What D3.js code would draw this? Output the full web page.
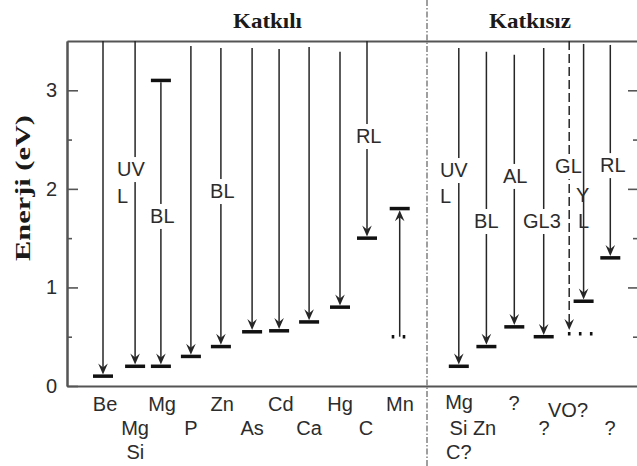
<!DOCTYPE html>
<html>
<head>
<meta charset="utf-8">
<script src="https://cdn.jsdelivr.net/npm/d3@7"></script>
<style>
  html, body { margin: 0; padding: 0; background: #fff; }
  svg { display: block; }
</style>
</head>
<body>
<svg id="chart" width="637" height="466"></svg>
<script>
// ---- Transitions: doped (Katkılı) first, then undoped (Katkısız) ----
// column position along the horizontal axis (column units)
const transitionCol  = [1.2, 2.27, 3.13, 4.13, 5.13, 6.17, 7.07, 8.07, 9.1, 10.0, 11.09,
                        13.06, 13.98, 14.91, 15.89, 16.74, 17.22, 18.11];
// energy of the level where the arrow ends (eV)
const levelEnergy    = [0.10, 0.20, 0.20, 0.30, 0.40, 0.55, 0.56, 0.65, 0.80, 1.50, 1.80,
                        0.20, 0.40, 0.60, 0.50, 0.55, 0.86, 1.30];
// energy where the arrow starts (eV)
const startEnergy    = [3.50, 3.50, 3.10, 3.45, 3.43, 3.43, 3.42, 3.44, 3.39, 3.50, 0.50,
                        3.43, 3.39, 3.36, 3.43, 3.50, 3.47, 3.46];
// emission (down), absorption (up) or tentative (dashed)
const transitionType = ["emission", "emission", "emission", "emission", "emission", "emission",
                        "emission", "emission", "emission", "emission", "absorption",
                        "emission", "emission", "emission", "emission", "tentative",
                        "emission", "emission"];
// marker drawn at the start level
const startMarker    = ["none", "none", "bar", "none", "none", "none", "none", "none", "none",
                        "none", "dots", "none", "none", "none", "none", "none", "none", "none"];

// ---- Band names written along the arrows ----
const bandNames = ["UV", "L", "BL", "BL", "RL", "UV", "L", "BL", "AL", "GL3", "GL", "Y", "L", "RL"];
const bandCol   = [1.67, 1.67, 2.77, 4.77, 9.63, 12.43, 12.43, 13.57, 14.53, 15.2, 16.27, 16.97, 17.03, 17.77];
const bandBaseE = [2.13, 1.857, 1.654, 1.907, 2.465, 2.12, 1.857, 1.603, 2.06, 1.603, 2.16, 1.867, 1.603, 2.17];
const bandKnock = [true, false, true, true, true, true, false, true, true, true, true, false, false, true];

// ---- Impurity / site names under the axis ----
const siteNames = ["Be", "Mg", "Zn", "Cd", "Hg", "Mn", "Mg", "?", "VO?",
                   "Mg", "P", "As", "Ca", "C", "Si Zn", "?", "?",
                   "Si", "C?"];
const siteCol   = [1.27, 3.17, 5.17, 7.13, 9.1, 11.1, 13.07, 14.9, 16.7,
                   2.27, 4.13, 6.17, 8.07, 9.97, 13.53, 15.9, 18.1,
                   2.28, 13.06];
const siteRow   = [1, 1, 1, 1, 1, 1, 0.92, 0.96, 1.25,
                   2, 2, 2, 2, 2, 2, 2, 2,
                   3, 3];

// ---- Axis ----
const yMajorTicks = [0, 1, 2, 3];
const yMinorTicks = [0.5, 1.5, 2.5];
const dividerCol = 12.0;
const sectionTitles = ["Katkılı", "Katkısız"];
const yTitle = "Enerji (eV)";

// ---------------------------------------------------------------
const svg = d3.select("#chart");
const plotLeft = 67, plotRight = 637, plotTop = 41, plotBottom = 386;

const x = d3.scaleLinear().domain([0, 19]).range([plotLeft, plotRight]);
const y = d3.scaleLinear().domain([0, 3.5]).range([plotBottom, plotTop]);

const axisColor = "#555";
const inkColor = "#262626";
const textColor = "#2c2c2c";
const sans = "'Liberation Sans', Arial, Helvetica, sans-serif";
const serif = "'Liberation Serif', 'Times New Roman', serif";

function styleAxis(g) {
  g.select(".domain").attr("stroke", axisColor).attr("stroke-width", 2);
  g.selectAll(".tick line").attr("stroke", axisColor).attr("stroke-width", 1.6);
}

// left axis with inward ticks
svg.append("g").attr("transform", `translate(${plotLeft},0)`)
  .call(d3.axisLeft(y).tickValues(yMinorTicks).tickSize(-5).tickSizeOuter(0).tickFormat(""))
  .call(styleAxis);
svg.append("g").attr("transform", `translate(${plotLeft},0)`)
  .call(d3.axisLeft(y).tickValues(yMajorTicks).tickSize(-11).tickSizeOuter(0).tickPadding(10).tickFormat(d3.format("d")))
  .call(styleAxis)
  .call(g => g.selectAll(".tick text")
    .attr("font-family", sans).attr("font-size", 20).attr("fill", textColor));

// right side ticks (axis line sits at the edge)
svg.append("g").attr("transform", `translate(${plotRight + 1},0)`)
  .call(d3.axisRight(y).tickValues(yMinorTicks).tickSize(-5).tickSizeOuter(0).tickFormat(""))
  .call(styleAxis);
svg.append("g").attr("transform", `translate(${plotRight + 1},0)`)
  .call(d3.axisRight(y).tickValues(yMajorTicks.filter(d => d > 0)).tickSize(-10).tickSizeOuter(0).tickFormat(""))
  .call(styleAxis);

// top and bottom frame lines
svg.append("g").attr("transform", `translate(0,${plotBottom})`)
  .call(d3.axisBottom(x).tickValues([]).tickSizeOuter(0))
  .call(styleAxis);
svg.append("g").attr("transform", `translate(0,${plotTop})`)
  .call(d3.axisTop(x).tickValues([]).tickSizeOuter(0))
  .call(styleAxis);

// dash-dot divider between doped and undoped
svg.append("line")
  .attr("x1", x(dividerCol)).attr("x2", x(dividerCol))
  .attr("y1", 0).attr("y2", 466)
  .attr("stroke", "#777").attr("stroke-width", 1.4)
  .attr("stroke-dasharray", "6,2,1.5,2");

// ---- transitions ----
const rows = transitionCol.map((c, i) => ({
  col: c, end: levelEnergy[i], start: startEnergy[i],
  type: transitionType[i], startMarker: startMarker[i]
}));

const barW = 20, barH = 3.5;
const arrowPath = "M0,0 L-4.8,-11 L0,-7 L4.8,-11 Z";
const lineLayer = svg.append("g");
const knockLayer = svg.append("g");
const markLayer = svg.append("g");
const textLayer = svg.append("g");

rows.forEach(d => {
  const cx = x(d.col);
  const up = d.type === "absorption";
  const yEnd = y(d.end) + (up ? barH / 2 : -barH / 2);
  const yStart = y(d.start) + (d.startMarker === "bar" ? barH / 2 : 0);

  lineLayer.append("line")
    .attr("x1", cx).attr("x2", cx)
    .attr("y1", yStart).attr("y2", yEnd + (up ? 6 : -6))
    .attr("stroke", inkColor).attr("stroke-width", 1.5)
    .attr("stroke-dasharray", d.type === "tentative" ? "9,4" : null);

  // arrow head touching the level
  markLayer.append("path")
    .attr("d", arrowPath)
    .attr("transform", `translate(${cx},${yEnd}) rotate(${up ? 180 : 0})`)
    .attr("fill", inkColor);

  // end level marker
  if (d.type === "tentative") {
    markLayer.append("line")
      .attr("x1", cx - 1.3).attr("x2", cx + 23.5)
      .attr("y1", y(d.end) + 2).attr("y2", y(d.end) + 2)
      .attr("stroke", "#111").attr("stroke-width", barH)
      .attr("stroke-dasharray", "2.6,8.4");
  } else {
    markLayer.append("rect")
      .attr("x", cx - barW / 2).attr("y", y(d.end) - barH / 2)
      .attr("width", barW).attr("height", barH)
      .attr("fill", "#111");
  }

  // start level marker
  if (d.startMarker === "bar") {
    markLayer.append("rect")
      .attr("x", cx - barW / 2).attr("y", y(d.start) - barH / 2)
      .attr("width", barW).attr("height", barH)
      .attr("fill", "#111");
  } else if (d.startMarker === "dots") {
    markLayer.append("line")
      .attr("x1", cx - 8).attr("x2", cx + 6)
      .attr("y1", y(d.start)).attr("y2", y(d.start))
      .attr("stroke", "#111").attr("stroke-width", barH)
      .attr("stroke-dasharray", "2.6,8.4");
  }
});

// ---- band labels (white box interrupts the arrow line) ----
bandNames.forEach((name, i) => {
  const t = textLayer.append("text")
    .attr("x", x(bandCol[i])).attr("y", y(bandBaseE[i]))
    .attr("font-family", sans).attr("font-size", 20).attr("fill", textColor)
    .text(name);
  if (bandKnock[i]) {
    const b = t.node().getBBox();
    knockLayer.append("rect")
      .attr("x", b.x).attr("y", b.y - 1)
      .attr("width", b.width).attr("height", b.height + 3)
      .attr("fill", "#fff");
  }
});

// ---- site names below the axis ----
siteNames.forEach((name, i) => {
  textLayer.append("text")
    .attr("x", x(siteCol[i])).attr("y", 411 + (siteRow[i] - 1) * 24)
    .attr("text-anchor", "middle")
    .attr("font-family", sans).attr("font-size", 20).attr("fill", textColor)
    .attr("xml:space", "preserve")
    .text(name);
});

// ---- section titles ----
const titleSpans = [[233, 69], [489, 82]];
sectionTitles.forEach((s, i) => {
  svg.append("text")
    .attr("x", titleSpans[i][0]).attr("y", 28)
    .attr("font-family", serif).attr("font-weight", "bold").attr("font-size", 21)
    .attr("fill", "#1a1a1a")
    .attr("textLength", titleSpans[i][1]).attr("lengthAdjust", "spacingAndGlyphs")
    .text(s);
});

// ---- y axis title ----
svg.append("text")
  .attr("transform", "translate(30,188) rotate(-90)")
  .attr("text-anchor", "middle")
  .attr("font-family", serif).attr("font-weight", "bold").attr("font-size", 20)
  .attr("fill", "#1a1a1a")
  .attr("textLength", 146).attr("lengthAdjust", "spacingAndGlyphs")
  .text(yTitle);
</script>
</body>
</html>
